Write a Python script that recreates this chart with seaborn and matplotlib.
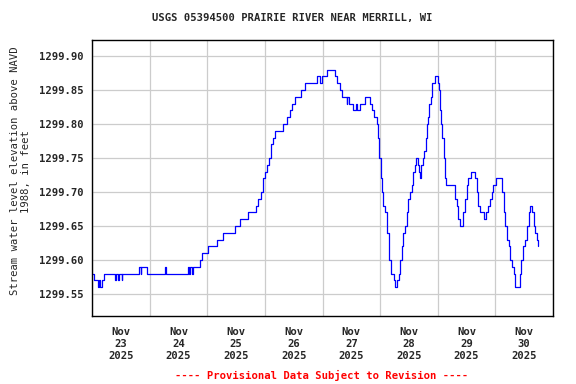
import numpy as np
import pandas as pd
import matplotlib
matplotlib.use("Agg")
import matplotlib.pyplot as plt
import matplotlib.dates as mdates
import seaborn as sns

# ── Data: hours after 2025-11-23 00:00 and gage height (ft, NAVD 1988) ──────
hours = [
    0.0, 1.0, 2.5, 3.0, 3.5, 4.0, 5.0, 9.6, 9.9, 11.0, 11.3, 12.4, 12.7,
    19.7, 20.2, 20.6, 23.0, 30.4, 30.7, 40.1, 40.5, 41.0, 41.5, 41.9,
    45.0, 46.0, 48.5, 52.2, 54.7, 59.7, 61.7, 65.1, 68.3, 69.0, 69.4,
    70.3, 71.1, 72.1, 72.8, 73.75, 74.4, 75.3, 76.25, 79.4, 81.1, 82.5,
    83.2, 84.6, 86.9, 88.75, 93.6, 95.0, 95.7, 97.8, 101.25, 102.0,
    103.3, 104.3, 106.0, 106.3, 107.2, 108.6, 110.0, 110.4, 111.7,
    113.75, 115.6, 116.5, 117.5, 118.2, 118.6, 119.3, 119.7, 120.4,
    120.8, 121.4, 122.1, 122.8, 123.5, 123.9, 124.4, 125.6, 126.0,
    127.1, 127.8, 128.3, 129.0, 129.7, 130.4, 131.1, 131.5, 132.5,
    133.2, 133.9, 134.6, 135.0, 135.6, 136.1, 136.7, 137.2, 137.8,
    138.3, 138.9, 139.4, 140.0, 140.4, 141.0, 141.5, 142.8, 143.9,
    144.4, 145.0, 145.3, 145.8, 146.4, 147.1, 147.5, 151.25, 151.9,
    152.6, 153.3, 154.7, 155.4, 156.1, 156.8, 157.8, 159.6, 160.3,
    160.8, 161.7, 163.1, 164.2, 165.0, 165.8, 166.5, 167.2, 168.3,
    170.7, 171.4, 172.1, 172.8, 173.5, 174.2, 174.9, 175.6, 176.25,
    178.3, 178.75, 179.4, 180.4, 181.1, 181.8, 182.5, 183.2, 183.9,
    184.6, 185.3, 185.6,
]
stage = [
    1299.58, 1299.57, 1299.56, 1299.57, 1299.56, 1299.57, 1299.58,
    1299.57, 1299.58, 1299.57, 1299.58, 1299.57, 1299.58,
    1299.59, 1299.58, 1299.59, 1299.58, 1299.59, 1299.58, 1299.59,
    1299.58, 1299.59, 1299.58, 1299.59,
    1299.60, 1299.61, 1299.62, 1299.63, 1299.64, 1299.65, 1299.66,
    1299.67, 1299.68, 1299.69, 1299.69,
    1299.70, 1299.72, 1299.73, 1299.74, 1299.75, 1299.77, 1299.78,
    1299.79, 1299.80, 1299.81, 1299.82,
    1299.83, 1299.84, 1299.85, 1299.86, 1299.87, 1299.86, 1299.87,
    1299.88, 1299.87, 1299.86,
    1299.85, 1299.84, 1299.83, 1299.84, 1299.83, 1299.82, 1299.83,
    1299.82, 1299.83,
    1299.84, 1299.83, 1299.82, 1299.81, 1299.81, 1299.80, 1299.78,
    1299.75, 1299.72,
    1299.70, 1299.68, 1299.67, 1299.64, 1299.62, 1299.60, 1299.58,
    1299.57, 1299.56,
    1299.57, 1299.58, 1299.60, 1299.62, 1299.64, 1299.65, 1299.67,
    1299.69, 1299.70,
    1299.71, 1299.73, 1299.74, 1299.75, 1299.74, 1299.73, 1299.72,
    1299.74, 1299.75,
    1299.76, 1299.78, 1299.80, 1299.81, 1299.83, 1299.84, 1299.86,
    1299.87, 1299.86,
    1299.85, 1299.82, 1299.80, 1299.78, 1299.75, 1299.72, 1299.71,
    1299.69, 1299.68,
    1299.66, 1299.65, 1299.67, 1299.69, 1299.71, 1299.72, 1299.73,
    1299.72, 1299.70,
    1299.68, 1299.67, 1299.66, 1299.67, 1299.68, 1299.69, 1299.70,
    1299.71, 1299.72,
    1299.70, 1299.67, 1299.65, 1299.63, 1299.62, 1299.60, 1299.59,
    1299.58, 1299.56,
    1299.58, 1299.60, 1299.62, 1299.63, 1299.65, 1299.67, 1299.68,
    1299.67, 1299.65,
    1299.64, 1299.63, 1299.62,
]

start = pd.Timestamp("2025-11-23")
end = pd.Timestamp("2025-12-01")
y_ticks = [1299.55, 1299.60, 1299.65, 1299.70, 1299.75, 1299.80, 1299.85, 1299.90]

title = "USGS 05394500 PRAIRIE RIVER NEAR MERRILL, WI"
ylabel = "Stream water level elevation above NAVD\n1988, in feet"
footer = "---- Provisional Data Subject to Revision ----"

df = pd.DataFrame({
    "time": start + pd.to_timedelta(hours, unit="h"),
    "stage": stage,
})

# ── Plot ─────────────────────────────────────────────────────────────────────
sns.set_style("white")
plt.rcParams["font.family"] = ["DejaVu Sans Mono"]
plt.rcParams["font.weight"] = "bold"
plt.rcParams["font.size"] = 7.6

fig = plt.figure(figsize=(5.76, 3.84), dpi=100)
ax = fig.add_axes([92 / 576, 1 - 316 / 384, 461 / 576, 276 / 384])

sns.lineplot(data=df, x="time", y="stage", ax=ax, color="#0000ff",
             linewidth=0.9, drawstyle="steps-post", sort=False,
             estimator=None)

ax.set_xlim(start, end)
ax.set_ylim(1299.5175, 1299.9236)
ax.set_yticks(y_ticks)
ax.yaxis.set_major_formatter(matplotlib.ticker.FormatStrFormatter("%.2f"))

ax.xaxis.set_major_locator(mdates.HourLocator(byhour=12))
ax.xaxis.set_major_formatter(mdates.DateFormatter("%b\n%d\n%Y"))
ax.xaxis.set_minor_locator(mdates.DayLocator())

ax.grid(False)
ax.grid(which="minor", axis="x", color="#cccccc", linewidth=0.9)
ax.grid(which="major", axis="y", color="#cccccc", linewidth=0.9)
ax.set_axisbelow(True)

ax.tick_params(axis="both", which="both", length=0)
ax.tick_params(axis="y", pad=6)
ax.tick_params(axis="x", pad=8)
for lbl in ax.get_xticklabels():
    lbl.set_linespacing(1.25)

for s in ax.spines.values():
    s.set_color("black")
    s.set_linewidth(1.0)

ax.set_xlabel("")
ax.set_ylabel(ylabel, fontsize=7.6)
ax.yaxis.label.set_linespacing(1.2)
ax.yaxis.set_label_coords(-0.132, 0.525)

fig.text(292 / 576, 1 - 18 / 384, title, ha="center", va="center",
         fontsize=7.6, fontweight="bold")
fig.text(322 / 576, 1 - 375 / 384, footer, ha="center", va="center",
         fontsize=7.6, fontweight="bold", color="#ff0000")

fig.savefig("out.png", dpi=100)
